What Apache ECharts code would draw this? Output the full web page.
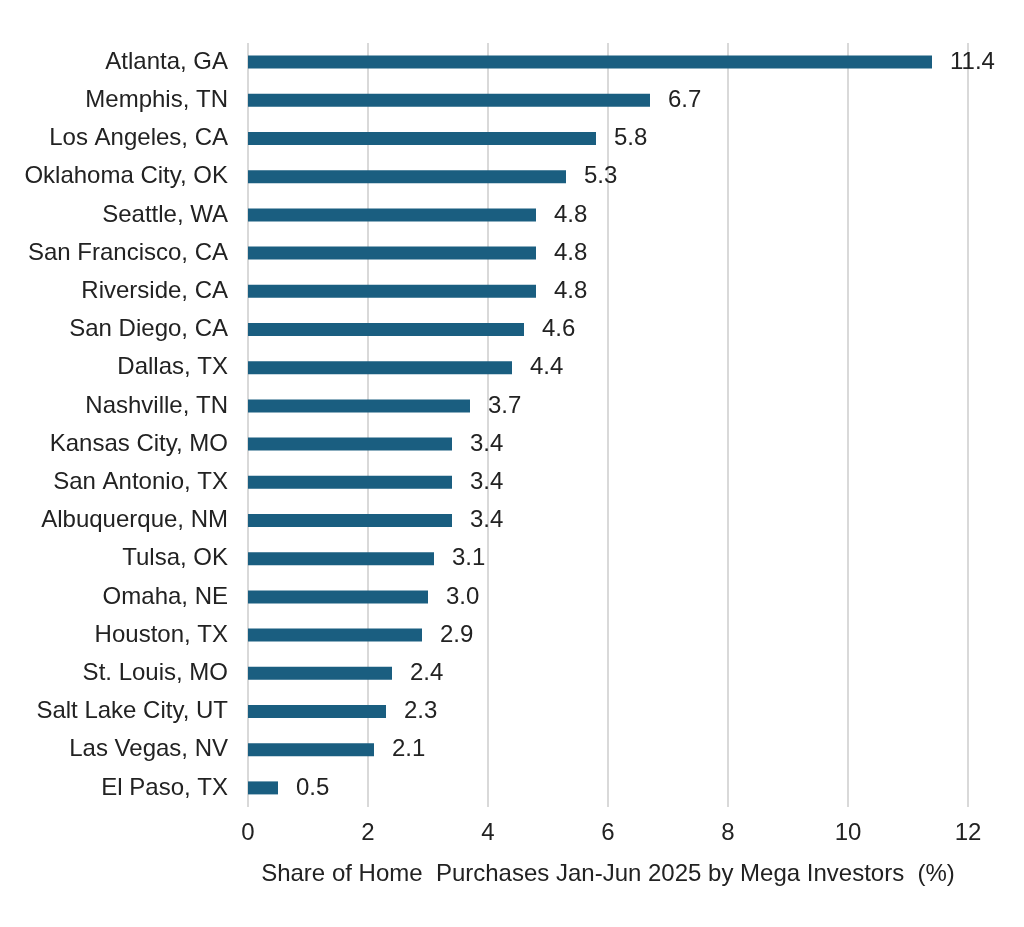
<!DOCTYPE html>
<html>
<head>
<meta charset="utf-8">
<script src="https://cdn.jsdelivr.net/npm/echarts@6/dist/echarts.min.js"></script>
<style>html,body{margin:0;padding:0;background:#fff}#c{width:1024px;height:927px}</style>
</head>
<body>
<div id="c"></div>
<script>
const categories = ["Atlanta, GA","Memphis, TN","Los Angeles, CA","Oklahoma City, OK","Seattle, WA","San Francisco, CA","Riverside, CA","San Diego, CA","Dallas, TX","Nashville, TN","Kansas City, MO","San Antonio, TX","Albuquerque, NM","Tulsa, OK","Omaha, NE","Houston, TX","St. Louis, MO","Salt Lake City, UT","Las Vegas, NV","El Paso, TX"];
const values = [11.4,6.7,5.8,5.3,4.8,4.8,4.8,4.6,4.4,3.7,3.4,3.4,3.4,3.1,3.0,2.9,2.4,2.3,2.1,0.5];
const axisTitle = "Share of Home  Purchases Jan-Jun 2025 by Mega Investors  (%)";

const chart = echarts.init(document.getElementById('c'));
const font = "'Liberation Sans', Arial, sans-serif";
chart.setOption({
  animation: false,
  grid: {left: 248, right: 56, top: 43, bottom: 120, containLabel: false},
  xAxis: {
    type: 'value', min: 0, max: 12, interval: 2,
    name: axisTitle, nameLocation: 'middle', nameGap: 55,
    nameTextStyle: {fontFamily: font, fontSize: 24, color: '#222'},
    axisLine: {show: false}, axisTick: {show: false},
    axisLabel: {fontFamily: font, fontSize: 24, color: '#222', margin: 14},
    splitLine: {show: true, lineStyle: {color: '#d9d9d9', width: 2}}
  },
  yAxis: {
    type: 'category', data: categories, inverse: true,
    axisLine: {show: false}, axisTick: {show: false},
    axisLabel: {fontFamily: font, fontSize: 24, color: '#222', margin: 20}
  },
  series: [{
    type: 'bar', data: values, barWidth: 13,
    itemStyle: {color: '#1a5e80'},
    label: {show: true, position: 'right', distance: 18, fontFamily: font, fontSize: 24, color: '#222',
      formatter: p => p.value.toFixed(1)}
  }]
});
</script>
</body>
</html>
